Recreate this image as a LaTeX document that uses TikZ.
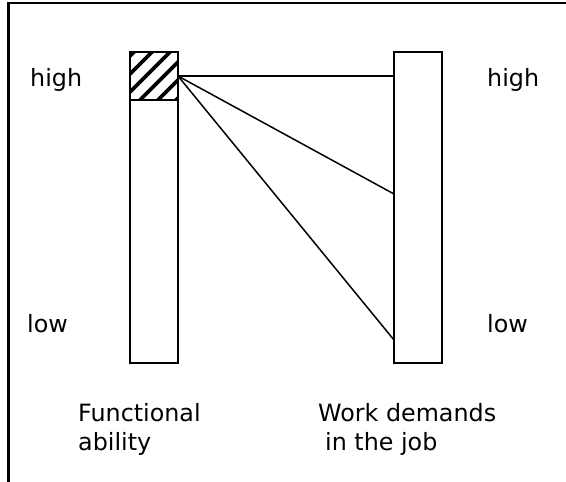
\documentclass[tikz,border=0pt]{standalone}
\usepackage{fontspec}
\setmainfont{DejaVu Sans}
\begin{document}
\begin{tikzpicture}[x=1pt,y=-1pt,
  bar/.style={draw,line width=2pt,minimum width=48pt,minimum height=311pt,inner sep=0pt,outer sep=0pt},
  hatchbox/.style={draw,line width=2pt,minimum width=48pt,minimum height=48pt,inner sep=0pt,outer sep=0pt},
  link/.style={line width=1.5pt},
  lbl/.style={anchor=base west,inner sep=0pt,font=\fontsize{23.8}{30}\selectfont}]
\useasboundingbox (0,0) rectangle (566,482);
\draw[line width=2.7pt] (566,3) -- (8.5,3) -- (8.5,482);
% bars
\node[bar] (fa) at (154,207.5) {};
\node[bar] (wd) at (418,207.5) {};
\begin{scope}
\clip (130,52) rectangle (178,100);
\foreach \k in {-4,...,4} {
  \draw[line width=3.8pt] ({152+\k*18},52) -- ({152+\k*18-48},100);
  \draw[line width=3.8pt] ({152+\k*18+48},4) -- ({152+\k*18},52);
}
\end{scope}
\node[hatchbox] (ha) at (154,76) {};
% connectors
\coordinate (t1) at (wd.west |- ha.east);
\coordinate (t2) at (394,194);
\coordinate (t3) at (394,340);
\draw[link] (ha.east) -- (t1);
\draw[link] (ha.east) -- (t2);
\draw[link] (ha.east) -- (t3);
% labels
\node[lbl] (hl) at (30,86) {high};
\node[lbl] (hr) at (487,86) {high};
\node[lbl] (ll) at (27,332) {low};
\node[lbl] (lr) at (487,332) {low};
\node[lbl] (fn) at (78,421) {Functional};
\node[lbl] (fn2) at (78,450) {ability};
\node[lbl] (wk) at (318,421) {Work demands};
\node[lbl] (wk2) at (325,450) {in the job};
\end{tikzpicture}
\end{document}
